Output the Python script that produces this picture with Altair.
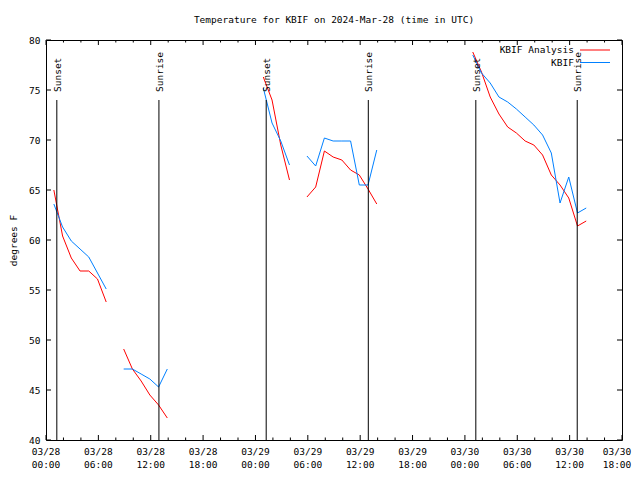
import altair as alt
import pandas as pd

# ---------------- data ----------------
base_time = "2024-03-28T00:00:00Z"
domain_hours = [0, 66]

# hourly samples, each segment starts at these hours after 03/28 00:00 UTC
seg_start_hours = [0.9, 8.9, 24.9, 29.9, 48.9]

analysis_seg1 = [65.0, 60.4, 58.2, 56.9, 56.9, 56.1, 53.8]
analysis_seg2 = [49.1, 47.1, 45.9, 44.5, 43.5, 42.2]
analysis_seg3 = [76.3, 74.0, 69.5, 66.0]
analysis_seg4 = [64.3, 65.3, 68.9, 68.3, 68.0, 67.0, 66.5, 65.1, 63.6]
analysis_seg5 = [78.8, 76.8, 74.3, 72.6, 71.3, 70.7, 69.9, 69.5, 68.5,
                 66.5, 65.5, 64.2, 61.4, 61.9]

observed_seg1 = [63.6, 61.3, 59.9, 59.1, 58.3, 56.7, 55.1]
observed_seg2 = [47.1, 47.1, 46.6, 46.1, 45.3, 47.1]
observed_seg3 = [75.2, 71.7, 69.9, 67.5]
observed_seg4 = [68.4, 67.4, 70.2, 69.9, 69.9, 69.9, 65.5, 65.5, 69.0]
observed_seg5 = [78.5, 76.7, 75.7, 74.3, 73.8, 73.1, 72.3, 71.5, 70.5,
                 68.7, 63.7, 66.3, 62.7, 63.2]

event_hours = [1.24, 12.94, 25.23, 36.93, 49.25, 60.87]
event_labels = ["Sunset", "Sunrise", "Sunset", "Sunrise", "Sunset", "Sunrise"]
event_line_top = 74
event_label_y = 74.8

y_ticks = [40, 45, 50, 55, 60, 65, 70, 75, 80]
x_major_hours = list(range(0, 67, 6))
x_minor_hours = [h for h in range(0, 67, 2) if h % 6]

series_names = ["KBIF Analysis", "KBIF"]
series_colors = ["#ff0000", "#0080ff"]

title_text = "Temperature for KBIF on 2024-Mar-28 (time in UTC)"
y_title = "degrees F"

FONT = "DejaVu Sans Mono"
FS = 9.5

# ---------------- build tables ----------------
t0 = pd.Timestamp(base_time)


def tstamp(h):
    return t0 + pd.Timedelta(hours=h)


def iso(h):
    return tstamp(h).strftime("%Y-%m-%dT%H:%M:%SZ")


def ms(h):
    return int(tstamp(h).timestamp() * 1000)


analysis = [analysis_seg1, analysis_seg2, analysis_seg3, analysis_seg4, analysis_seg5]
observed = [observed_seg1, observed_seg2, observed_seg3, observed_seg4, observed_seg5]

rows = []
for i, start in enumerate(seg_start_hours):
    for name, segs in zip(series_names, [analysis, observed]):
        for j, v in enumerate(segs[i]):
            rows.append({"time": iso(start + j), "temp": v,
                         "series": name, "seg": f"{name}-{i}"})
df = pd.DataFrame(rows)

ev_rule_df = pd.DataFrame({
    "time": [iso(h) for h in event_hours],
    "temp": event_line_top,
    "temp2": y_ticks[0],
})
ev_text_df = pd.DataFrame({
    "time": [iso(h) for h in event_hours],
    "temp": event_label_y,
    "label": event_labels,
})

major = pd.DataFrame({"time": [iso(h) for h in x_major_hours]})
minor = pd.DataFrame({"time": [iso(h) for h in x_minor_hours]})
xlab = pd.DataFrame({
    "time": [iso(h) for h in x_major_hours],
    "lab": [tstamp(h).strftime("%m/%d") + "\n" + tstamp(h).strftime("%H:%M") for h in x_major_hours],
})
xlab_main = xlab.iloc[:-1]
xlab_last = xlab.iloc[-1:]
yt = pd.DataFrame({"temp": y_ticks})
one = pd.DataFrame({"k": [0]})

W, H = 576, 400

x_scale = alt.Scale(type="utc", domain=[ms(domain_hours[0]), ms(domain_hours[1])])
y_scale = alt.Scale(domain=[y_ticks[0], y_ticks[-1]], nice=False, zero=False)

x_axis = alt.Axis(
    values=[ms(h) for h in x_major_hours],
    labels=False, ticks=False, domain=False, grid=False, title=None,
)
y_axis = alt.Axis(
    values=y_ticks, ticks=False, domain=False, grid=False,
    labelPadding=6, title=y_title, titlePadding=10,
)

X = alt.X("time:T", scale=x_scale, axis=x_axis)
Y = alt.Y("temp:Q", scale=y_scale, axis=y_axis)

lines = alt.Chart(df).mark_line(strokeWidth=1).encode(
    x=X, y=Y,
    color=alt.Color("series:N", scale=alt.Scale(domain=series_names, range=series_colors), legend=None),
    detail="seg:N",
)

ev_rules = alt.Chart(ev_rule_df).mark_rule(color="black", strokeWidth=1).encode(
    x=X, y=Y, y2="temp2:Q",
)
ev_text = alt.Chart(ev_text_df).mark_text(
    angle=270, align="left", baseline="middle", dy=1, font=FONT, fontSize=FS, color="black"
).encode(x=X, y=Y, text="label:N")


def xlabels(data, dx):
    return alt.Chart(data).mark_text(
        align="center", baseline="top", lineBreak="\n", lineHeight=13, dx=dx,
        font=FONT, fontSize=FS, color="black",
    ).encode(x=X, y=alt.value(H + 7), text="lab:N")


def xticks(data, y0, y1):
    return alt.Chart(data).mark_rule(color="black", strokeWidth=1).encode(
        x=X, y=alt.value(y0), y2=alt.value(y1))


def yticks(x0, x1):
    return alt.Chart(yt).mark_rule(color="black", strokeWidth=1).encode(
        y=Y, x=alt.value(x0), x2=alt.value(x1))


tick_layers = [
    xticks(major, H, H - 5), xticks(major, 0, 5),
    xticks(minor, H, H - 2.5), xticks(minor, 0, 2.5),
    yticks(0, 5), yticks(W, W - 5),
    xlabels(xlab_main, 0), xlabels(xlab_last, -5),
]

legend_layers = []
for k, (name, col) in enumerate(zip(series_names, series_colors)):
    yy = 10 + k * 12.5
    legend_layers.append(
        alt.Chart(one).mark_text(align="right", baseline="middle", font=FONT, fontSize=FS, color="black")
        .encode(x=alt.value(528), y=alt.value(yy), text=alt.value(name))
    )
    legend_layers.append(
        alt.Chart(one).mark_rule(color=col, strokeWidth=1)
        .encode(x=alt.value(534), x2=alt.value(564), y=alt.value(yy))
    )

chart = alt.layer(lines, ev_rules, ev_text, *tick_layers, *legend_layers).properties(
    width=W, height=H,
    title=alt.TitleParams(title_text, anchor="middle", offset=11),
    padding={"left": 38, "top": 32, "right": 10, "bottom": 30},
    autosize="none",
    background="white",
).configure_view(
    stroke="black", strokeWidth=1
).configure_axis(
    labelFont=FONT, labelFontSize=FS, labelColor="black",
    titleFont=FONT, titleFontSize=FS, titleFontWeight="normal", titleColor="black",
).configure_title(
    font=FONT, fontSize=FS, fontWeight="normal", color="black",
)

chart.save("out.html", embed_options={"renderer": "svg", "actions": False})
